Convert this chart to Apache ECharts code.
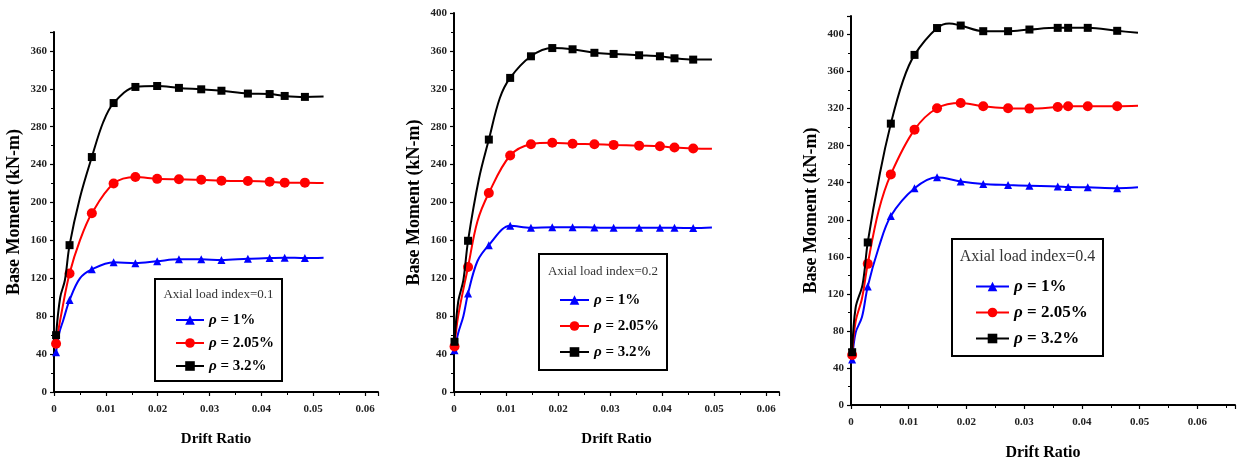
<!DOCTYPE html>
<html>
<head>
<meta charset="utf-8">
<script src="https://cdn.jsdelivr.net/npm/echarts@6/dist/echarts.min.js"></script>
<style>
  html, body { margin: 0; padding: 0; background: #fff; }
  #chart { width: 1239px; height: 466px; }
</style>
</head>
<body>
<div id="chart"></div>
<script>
// Base moment vs drift ratio for three axial load indices.
// Each point: [drift ratio, base moment (kN-m), 1 = marked test point / 0 = curve point]
const seriesNames = ['ρ = 1%', 'ρ = 2.05%', 'ρ = 3.2%'];
const axialLabels = ['Axial load index=0.1', 'Axial load index=0.2', 'Axial load index=0.4'];

// Axial load index = 0.1
const p1Rho1 = [[0.0004,42,1],[0.001,62,0],[0.0018,76,0],[0.003,97,1],[0.005,120,0],[0.0073,129.5,1],[0.0115,137,1],[0.0157,136,1],[0.0199,138,1],[0.0241,140,1],[0.0284,140,1],[0.0323,139.3,1],[0.0374,140.7,1],[0.0416,141.4,1],[0.0445,141.8,1],[0.0484,141.4,1],[0.052,141.8,0]];
const p1Rho2 = [[0.0004,51,1],[0.0015,85,0],[0.003,125,1],[0.005,160,0],[0.0073,188.6,1],[0.0115,220,1],[0.0157,227,1],[0.0199,225,1],[0.0241,224.5,1],[0.0284,224,1],[0.0323,223,1],[0.0374,222.7,1],[0.0416,222,1],[0.0445,221,1],[0.0484,221,1],[0.052,220.6,0]];
const p1Rho3 = [[0.0004,60,1],[0.0012,100,0],[0.0021,118,0],[0.003,155,1],[0.005,205,0],[0.0073,248,1],[0.0095,285,0],[0.0115,305,1],[0.0157,322,1],[0.0199,323,1],[0.0241,321,1],[0.0284,319.5,1],[0.0323,318,1],[0.0374,315,1],[0.0416,314.5,1],[0.0445,312.5,1],[0.0484,311.5,1],[0.052,311.8,0]];

// Axial load index = 0.2
const p2Rho1 = [[0.0001,44,1],[0.0008,62,0],[0.0018,80,0],[0.0027,104,1],[0.0045,138,0],[0.0067,155,1],[0.0108,175.4,1],[0.0148,173.3,1],[0.0189,174,1],[0.0228,174,1],[0.027,173.6,1],[0.0307,173.3,1],[0.0356,173.3,1],[0.0396,173.3,1],[0.0424,173.3,1],[0.046,173,1],[0.0496,173.6,0]];
const p2Rho2 = [[0.0001,48,1],[0.0008,80,0],[0.0027,132,1],[0.0045,180,0],[0.0067,210,1],[0.0108,249.6,1],[0.0148,261.5,1],[0.0189,263,1],[0.0228,262,1],[0.027,261.5,1],[0.0307,260.8,1],[0.0356,260,1],[0.0396,259.4,1],[0.0424,258,1],[0.046,257,1],[0.0496,256.6,0]];
const p2Rho3 = [[0.0001,53,1],[0.0008,95,0],[0.0018,118,0],[0.0027,159.6,1],[0.0048,225,0],[0.0067,266.4,1],[0.0088,310,0],[0.0108,331.5,1],[0.0148,354.3,1],[0.0189,363,1],[0.0228,361.7,1],[0.027,358,1],[0.0307,356.8,1],[0.0356,355.4,1],[0.0396,354.3,1],[0.0424,352.2,1],[0.046,350.8,1],[0.0496,351,0]];

// Axial load index = 0.4
const p3Rho1 = [[0.0002,49,1],[0.0008,78,0],[0.0019,95,0],[0.0029,128,1],[0.0048,170,0],[0.0069,204,1],[0.011,234,1],[0.0149,246,1],[0.019,241.4,1],[0.0229,238.6,1],[0.0272,237.5,1],[0.0309,236.8,1],[0.0358,236,1],[0.0376,235.3,1],[0.041,235,1],[0.0461,234,1],[0.0497,235,0]];
const p3Rho2 = [[0.0002,54,1],[0.0008,90,0],[0.0019,115,0],[0.0029,152.4,1],[0.0048,210,0],[0.0069,249,1],[0.011,297.3,1],[0.0149,320.4,1],[0.019,326,1],[0.0229,322.5,1],[0.0272,320.4,1],[0.0309,320,1],[0.0358,321.8,1],[0.0376,322.5,1],[0.041,322.5,1],[0.0461,322.5,1],[0.0497,323,0]];
const p3Rho3 = [[0.0002,57,1],[0.0008,105,0],[0.002,130,0],[0.0029,175.5,1],[0.005,250,0],[0.0069,303.8,1],[0.009,350,0],[0.011,378,1],[0.0149,407,1],[0.017,412,0],[0.019,409.7,1],[0.0229,403.6,1],[0.0272,403.6,1],[0.0309,405.4,1],[0.0358,407.2,1],[0.0376,407.2,1],[0.041,407.2,1],[0.0461,404,1],[0.0497,401.8,0]];

// Axis extents
const yMax = [380, 400, 420];
const xMax = [0.0625, 0.0625, 0.0665];
const yStep = 40;
const xStep = 0.01;

const panelData = [[p1Rho1, p1Rho2, p1Rho3], [p2Rho1, p2Rho2, p2Rho3], [p3Rho1, p3Rho2, p3Rho3]];

const FONT = 'Liberation Serif';
const colors = ['#0000ff', '#ff0000', '#000000'];
const symbols = ['triangle', 'circle', 'rect'];
const symbolSizes = [8, 10, 8];

// layout of the three panels
const grids = [
  { left: 54, top: 32, width: 324, height: 360 },
  { left: 454, top: 13, width: 325, height: 379 },
  { left: 851, top: 16, width: 384, height: 389 }
];
const xNameSizes = [15, 15, 16];
const legendBoxes = [
  { x: 155, y: 279, w: 127, h: 102, titleY: 295, titleSize: 13, left: 170, top: 307, gap: 7, size: 15, iconW: 28 },
  { x: 539, y: 254, w: 128, h: 116, titleY: 272, titleSize: 13, left: 554, top: 287, gap: 10, size: 15, iconW: 29 },
  { x: 952, y: 239, w: 151, h: 117, titleY: 257, titleSize: 16, left: 970, top: 273, gap: 9, size: 17, iconW: 33 }
];

const xAxes = [], yAxes = [], series = [], legends = [], graphics = [];

for (let p = 0; p < 3; p++) {
  xAxes.push({
    type: 'value', gridIndex: p, min: 0, max: xMax[p], interval: xStep,
    name: 'Drift Ratio', nameLocation: 'middle', nameGap: 40,
    nameTextStyle: { fontFamily: FONT, fontWeight: 'bold', fontSize: xNameSizes[p], color: '#000' },
    axisLine: { show: true, onZero: false, lineStyle: { color: '#000', width: 2 } },
    axisTick: { show: true, inside: false, length: 4, lineStyle: { color: '#000', width: 1.2 } },
    minorTick: { show: true, splitNumber: 2, length: 3, lineStyle: { color: '#000', width: 1 } },
    splitLine: { show: false },
    axisLabel: {
      margin: 12, fontFamily: FONT, fontWeight: 'bold', fontSize: 11, color: '#222',
      showMaxLabel: false,
      formatter: v => (Math.abs(Math.round(v / xStep) * xStep - v) < 1e-9 ? String(+v.toFixed(2)) : '')
    }
  });
  yAxes.push({
    type: 'value', gridIndex: p, min: 0, max: yMax[p], interval: yStep,
    name: 'Base Moment (kN-m)', nameLocation: 'middle', nameRotate: 90, nameGap: 31,
    nameTextStyle: { fontFamily: FONT, fontWeight: 'bold', fontSize: 18, color: '#000' },
    axisLine: { show: true, onZero: false, lineStyle: { color: '#000', width: 2 } },
    axisTick: { show: true, inside: false, length: 4, lineStyle: { color: '#000', width: 1.2 } },
    minorTick: { show: true, splitNumber: 2, length: 3, lineStyle: { color: '#000', width: 1 } },
    splitLine: { show: false },
    axisLabel: {
      margin: 7, fontFamily: FONT, fontWeight: 'bold', fontSize: 11, color: '#222',
      formatter: v => (v % yStep === 0 ? String(v) : '')
    }
  });

  for (let s = 0; s < 3; s++) {
    series.push({
      type: 'line', name: seriesNames[s], xAxisIndex: p, yAxisIndex: p,
      smooth: 0.35, symbol: symbols[s], symbolSize: symbolSizes[s],
      showAllSymbol: true,
      itemStyle: { color: colors[s] },
      lineStyle: { color: colors[s], width: 2 },
      z: 2 + s,
      data: panelData[p][s].map(pt => ({ value: [pt[0], pt[1]], symbol: pt[2] ? symbols[s] : 'none' }))
    });
  }

  const lb = legendBoxes[p];
  legends.push({
    data: seriesNames, orient: 'vertical', left: lb.left, top: lb.top,
    itemWidth: lb.iconW, itemHeight: 12, itemGap: lb.gap, selectedMode: false,
    textStyle: {
      fontFamily: FONT, fontWeight: 'bold', fontSize: lb.size, color: '#000', lineHeight: 16,
      rich: {
        r: { fontFamily: FONT, fontStyle: 'italic', fontWeight: 'bold', fontSize: lb.size, color: '#000' },
        b: { fontFamily: FONT, fontWeight: 'bold', fontSize: lb.size, color: '#000' }
      }
    },
    formatter: n => '{r|ρ}{b|' + n.slice(1) + '}'
  });

  graphics.push({
    type: 'rect', shape: { x: lb.x, y: lb.y, width: lb.w, height: lb.h },
    style: { fill: 'rgba(255,255,255,0)', stroke: '#000', lineWidth: 2 }, z: 10
  });
  graphics.push({
    type: 'text', x: lb.x + lb.w / 2, y: lb.titleY, z: 10,
    style: {
      text: axialLabels[p], fill: '#333', font: lb.titleSize + 'px "' + FONT + '"',
      textAlign: 'center', textVerticalAlign: 'middle'
    }
  });
}

const chart = echarts.init(document.getElementById('chart'), null, { renderer: 'canvas' });
chart.setOption({
  backgroundColor: '#fff',
  animation: false,
  grid: grids,
  xAxis: xAxes,
  yAxis: yAxes,
  legend: legends,
  series: series,
  graphic: graphics
});
</script>
</body>
</html>
